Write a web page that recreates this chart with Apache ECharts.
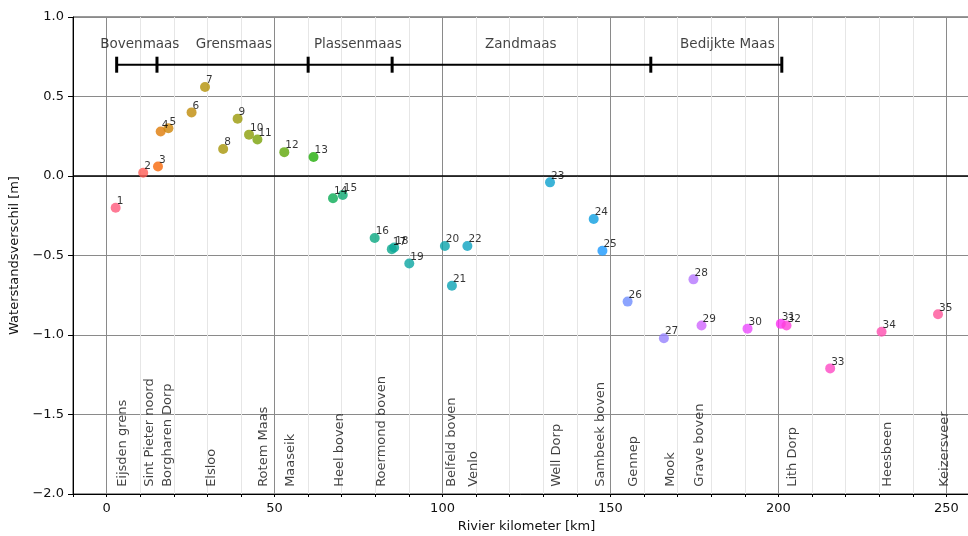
<!DOCTYPE html>
<html><head><meta charset="utf-8">
<script src="https://cdn.jsdelivr.net/npm/echarts@6/dist/echarts.min.js"></script>
<style>html,body{margin:0;padding:0;background:#fff}#c{width:968px;height:536px}</style>
</head><body><div id="c"></div>
<script>
// ---------- data ----------
const pointNr = [1,2,3,4,5,6,7,8,9,10,11,12,13,14,15,16,17,18,19,20,21,22,23,24,25,26,27,28,29,30,31,32,33,34,35];
const pointKm = [2.7,10.9,15.3,16.1,18.4,25.3,29.3,34.7,39.0,42.4,44.9,52.9,61.6,67.4,70.3,79.8,84.9,85.6,90.1,100.7,102.8,107.4,132.0,145.0,147.6,155.1,165.9,174.7,177.1,190.8,200.7,202.4,215.4,230.7,247.5];
const pointDiff = [-0.20,0.02,0.06,0.28,0.30,0.40,0.56,0.17,0.36,0.26,0.23,0.15,0.12,-0.14,-0.12,-0.39,-0.46,-0.45,-0.55,-0.44,-0.69,-0.44,-0.04,-0.27,-0.47,-0.79,-1.02,-0.65,-0.94,-0.96,-0.93,-0.94,-1.21,-0.98,-0.87];

const placeNames = ['Eijsden grens','Sint Pieter noord','Borgharen Dorp','Elsloo','Rotem Maas','Maaseik','Heel boven','Roermond boven','Belfeld boven','Venlo','Well Dorp','Sambeek boven','Gennep','Mook','Grave boven','Lith Dorp','Heesbeen','Keizersveer'];
const placePoint = [1,2,4,7,11,12,14,16,20,22,23,24,26,27,28,32,34,35];
const placeY = -1.955;

const segNames = ['Bovenmaas','Grensmaas','Plassenmaas','Zandmaas','Bedijkte Maas'];
const segBounds = [3,15,60,85,162,201];
const segLabelKm = [9.9,37.9,74.8,123.3,184.8];
const segY = 0.7;
const segLabelY = 0.83;

const xTicks = [0,50,100,150,200,250];
const yTicks = [-2.0,-1.5,-1.0,-0.5,0.0,0.5,1.0];

// ---------- husl palette (one hue per point) ----------
const M = [[3.2406,-1.5372,-0.4986],[-0.9689,1.8758,0.0415],[0.0557,-0.2040,1.0570]];
function maxChroma(L,H){
  const hr=H*Math.PI/180, sinH=Math.sin(hr), cosH=Math.cos(hr);
  const sub1=Math.pow(L+16,3)/1560896, sub2=sub1>0.008856?sub1:L/903.3;
  let res=Infinity;
  for(const [m1,m2,m3] of M){
    const top=(0.99915*m1+1.05122*m2+1.14460*m3)*sub2;
    const rb=0.86330*m3-0.17266*m2, lb=0.12949*m3-0.38848*m1;
    const bottom=(rb*sinH+lb*cosH)*sub2;
    for(const t of [0,1]){const C=L*(top-1.05122*t)/(bottom+0.17266*sinH*t); if(C>0&&C<res)res=C;}
  }
  return res;
}
function husl2rgb(H,S,L){
  const C=maxChroma(L,H)/100*S, hr=H*Math.PI/180;
  const U=Math.cos(hr)*C, V=Math.sin(hr)*C;
  const t=(L+16)/116, varY=Math.pow(t,3)>0.008856?Math.pow(t,3):(116*t-16)/903.3;
  const vU=U/(13*L)+0.19784, vV=V/(13*L)+0.46834;
  const Y=varY, X=-(9*Y*vU)/((vU-4)*vV-vU*vV), Z=(9*Y-15*vV*Y-vV*X)/(3*vV);
  const rgb=M.map(r=>{let c=r[0]*X+r[1]*Y+r[2]*Z; c=c<=0.0031308?12.92*c:1.055*Math.pow(c,1/2.4)-0.055; return Math.round(Math.max(0,Math.min(1,c))*255);});
  return 'rgb('+rgb.join(',')+')';
}
function huslPalette(n,s,l){
  const out=[];
  for(let i=0;i<n;i++){let h=(i/n+0.01)%1; out.push(husl2rgb(h*359,s*99,l*99));}
  return out;
}
const colors = huslPalette(pointNr.length,1.0,0.62);

// ---------- chart ----------
const FONT = 'DejaVu Sans';
const TXT = '#111';
const chart = echarts.init(document.getElementById('c'), null, {renderer:'canvas'});
const fmtY = v => (v<0?'\u2212':'') + Math.abs(v).toFixed(1);

chart.setOption({
  animation:false,
  backgroundColor:'#fff',
  grid:{left:73,width:907,top:17,bottom:42,outerBoundsMode:'none',containLabel:false,
    show:true,borderColor:'#333',borderWidth:1,backgroundColor:'transparent'},
  xAxis:{
    type:'value',min:-10,max:260,interval:10,
    name:'Rivier kilometer [km]',nameLocation:'middle',nameGap:26,
    nameTextStyle:{fontFamily:FONT,fontSize:13,color:TXT},
    axisLine:{show:true,onZero:false,lineStyle:{color:'#000',width:1}},
    axisTick:{show:true,length:3,lineStyle:{color:'#000'}},
    axisLabel:{fontFamily:FONT,fontSize:13,color:TXT,margin:8,
      formatter:v=>xTicks.includes(v)?String(v):''},
    splitLine:{show:true,lineStyle:{color:['#e6e6e6','#8a8a8a','#e6e6e6','#e6e6e6','#e6e6e6'],width:1}}
  },
  yAxis:{
    type:'value',min:-2,max:1,interval:0.5,
    name:'Waterstandsverschil [m]',nameLocation:'middle',nameGap:48,
    nameTextStyle:{fontFamily:FONT,fontSize:13,color:TXT},
    axisLine:{show:true,onZero:false,lineStyle:{color:'#000',width:1}},
    axisTick:{show:true,length:5,lineStyle:{color:'#000'}},
    axisLabel:{fontFamily:FONT,fontSize:13,color:TXT,margin:9,
      formatter:v=>yTicks.some(t=>Math.abs(t-v)<1e-9)?fmtY(v):''},
    splitLine:{show:true,lineStyle:{color:'#8a8a8a',width:1}}
  },
  series:[
    {
      type:'line',data:[],z:2,silent:true,
      markLine:{silent:true,symbol:'none',label:{show:false},
        lineStyle:{color:'#000',width:1.6,type:'solid'},data:[{yAxis:0}]}
    },
    {
      type:'line',z:3,silent:true,
      data:segBounds.map(k=>[k,segY]),
      symbol:'rect',symbolSize:[3,16],showSymbol:true,
      itemStyle:{color:'#000'},lineStyle:{color:'#000',width:2}
    },
    {
      type:'scatter',z:3,silent:true,symbolSize:0,
      data:segNames.map((n,i)=>({name:n,value:[segLabelKm[i],segLabelY]})),
      label:{show:true,position:'inside',formatter:p=>p.name,fontFamily:FONT,fontSize:13.5,color:TXT}
    },
    {
      type:'scatter',z:3,silent:true,symbolSize:0,
      data:placeNames.map((n,i)=>({name:n,value:[pointKm[placePoint[i]-1],placeY]})),
      label:{show:true,position:'inside',rotate:90,align:'left',verticalAlign:'top',
        formatter:p=>p.name,fontFamily:FONT,fontSize:13,color:TXT}
    },
    {
      type:'scatter',z:5,symbolSize:10,
      data:pointNr.map((n,i)=>({name:String(n),value:[pointKm[i],pointDiff[i]],itemStyle:{color:colors[i]}})),
      label:{show:true,position:[6,4],align:'left',verticalAlign:'bottom',
        formatter:p=>p.name,fontFamily:FONT,fontSize:10.5,color:'#000'}
    }
  ]
});
</script></body></html>
